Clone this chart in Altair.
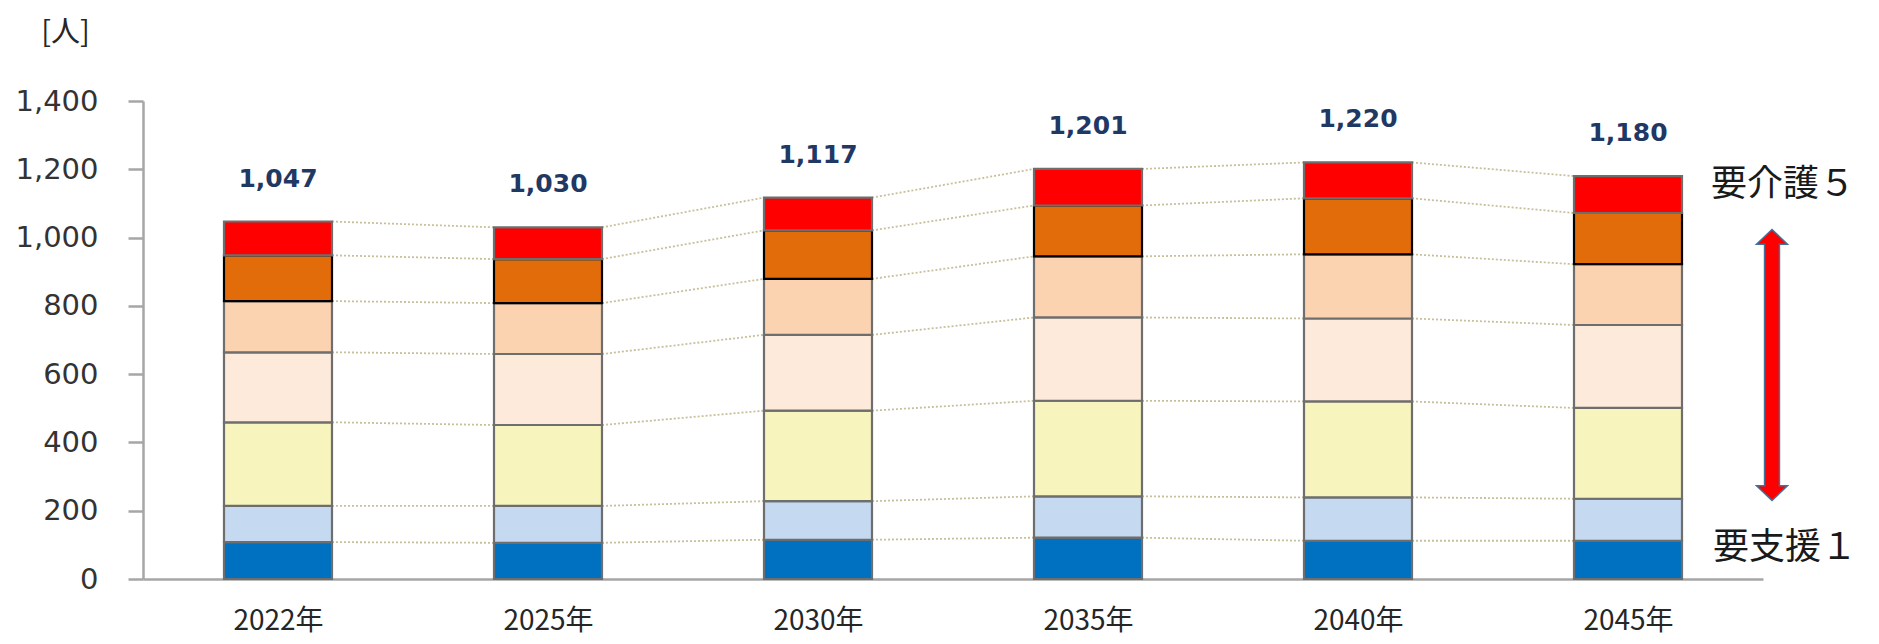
import altair as alt
import pandas as pd

# ---- data ----
years = ["2022年", "2025年", "2030年", "2035年", "2040年", "2045年"]
levels = ["要支援1", "要支援2", "要介護1", "要介護2", "要介護3", "要介護4", "要介護5"]
shien1 = [108, 106, 115, 121, 112, 112]
shien2 = [106, 108, 113, 121, 127, 123]
kaigo1 = [245, 237, 265, 280, 281, 266]
kaigo2 = [205, 208, 222, 244, 243, 243]
kaigo3 = [150, 149, 164, 179, 188, 178]
kaigo4 = [134, 129, 142, 149, 164, 150]
kaigo5 = [99, 93, 96, 107, 105, 108]
totals = [1047, 1030, 1117, 1201, 1220, 1180]

series = [shien1, shien2, kaigo1, kaigo2, kaigo3, kaigo4, kaigo5]
fill_colors = ["#0070C0", "#C5D9F1", "#F7F5BD", "#FDEADA", "#FBD3B1", "#E36C0A", "#FF0000"]
stroke_colors = ["#6E6E6E", "#6E6E6E", "#6E6E6E", "#6E6E6E", "#6E6E6E", "#000000", "#6E6E6E"]

HALF = 0.2  # half bar width in category units

# ---- build tables ----
bar_rows = []
cums = []
for i, yr in enumerate(years):
    c = 0
    cum = [0]
    for k, lv in enumerate(levels):
        v = series[k][i]
        bar_rows.append({"xi": i, "x0": i - HALF, "x1": i + HALF, "y0": c, "y1": c + v,
                         "level": lv, "order": k})
        c += v
        cum.append(c)
    cums.append(cum)
bars_df = pd.DataFrame(bar_rows)

conn_rows = []
for i in range(len(years) - 1):
    for k in range(1, len(levels) + 1):
        conn_rows.append({"x": i + HALF, "x2": i + 1 - HALF, "y": cums[i][k], "y2": cums[i + 1][k]})
conn_df = pd.DataFrame(conn_rows)

tot_df = pd.DataFrame({"xi": list(range(len(years))), "total": totals})

xscale = alt.Scale(domain=[-0.5, len(years) - 0.5], nice=False, zero=False)
yscale = alt.Scale(domain=[0, 1400], nice=False)

label_expr = "[" + ",".join("'" + y + "'" for y in years) + "][datum.value]"

x_axis = alt.Axis(values=list(range(len(years))), labelExpr=label_expr, ticks=False, grid=False,
                  domainColor="#A6A6A6", domainWidth=2.5, labelFont="Noto Sans CJK JP",
                  labelFontSize=28, labelColor="#262626", labelBaseline="middle",
                  labelPadding=42, title=None)
y_axis = alt.Axis(values=list(range(0, 1401, 200)), format=",d", grid=False,
                  domainColor="#A6A6A6", domainWidth=2.5, tickColor="#A6A6A6", tickWidth=2.5,
                  tickSize=15, labelFont="DejaVu Sans", labelFontSize=29, labelColor="#333333",
                  labelPadding=30, title="[人]", titleAngle=0, titleX=-78, titleY=-69,
                  titleAlign="center", titleBaseline="middle", titleFont="Noto Sans CJK JP",
                  titleFontSize=29, titleFontWeight="normal", titleColor="#262626")

connectors = alt.Chart(conn_df).mark_rule(color="#C8C09A", strokeWidth=1.8, strokeDash=[2, 2]).encode(
    x=alt.X("x:Q", scale=xscale, axis=x_axis),
    x2="x2:Q",
    y=alt.Y("y:Q", scale=yscale, axis=y_axis),
    y2="y2:Q",
)

bars = alt.Chart(bars_df).mark_bar(strokeWidth=2.2).encode(
    x=alt.X("x0:Q", scale=xscale),
    x2="x1:Q",
    y=alt.Y("y0:Q", scale=yscale),
    y2="y1:Q",
    fill=alt.Fill("level:N", scale=alt.Scale(domain=levels, range=fill_colors), legend=None),
    stroke=alt.Stroke("level:N", scale=alt.Scale(domain=levels, range=stroke_colors), legend=None),
    order=alt.Order("order:Q"),
)

labels = alt.Chart(tot_df).mark_text(dy=-43, font="DejaVu Sans", fontSize=25, fontWeight="bold",
                                     color="#1F3864", baseline="middle").encode(
    x=alt.X("xi:Q", scale=xscale),
    y=alt.Y("total:Q", scale=yscale),
    text=alt.Text("total:Q", format=",d"),
)

note_df = pd.DataFrame({"txt": ["要介護５", "要支援１"], "px": [1640, 1642], "py": [84, 447]})
notes = alt.Chart(note_df).mark_text(font="Noto Sans CJK JP", fontSize=36, color="#1A1A1A",
                                     baseline="middle", align="center").encode(
    x=alt.X("px:Q", scale=None),
    y=alt.Y("py:Q", scale=None),
    text="txt:N",
)

arrow_path = ("M0,-1 L0.114,-0.892 L0.055,-0.892 L0.055,0.892 L0.114,0.892 L0,1 "
              "L-0.114,0.892 L-0.055,0.892 L-0.055,-0.892 L-0.114,-0.892 Z")
arrow = alt.Chart(pd.DataFrame({"a": [1]})).mark_point(
    shape=arrow_path, size=271 * 271, filled=True, fill="#FF0000", stroke="#41719C",
    strokeWidth=1.5, opacity=1).encode(x=alt.value(1629), y=alt.value(264))

chart = alt.layer(connectors, bars, labels, notes, arrow).properties(
    width=1620, height=478,
    autosize=alt.AutoSizeParams(type="none"),
    padding={"left": 135, "top": 93, "right": 108, "bottom": 57},
).configure_view(stroke=None)

chart.save("out.html", embed_options={"renderer": "svg", "actions": False})
